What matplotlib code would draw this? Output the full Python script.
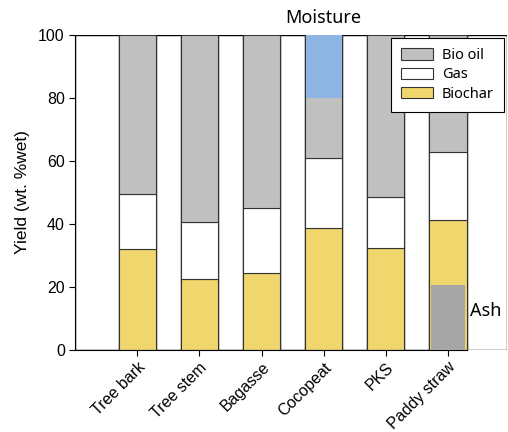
import numpy as np
import matplotlib.pyplot as plt

categories = ['Tree bark', 'Tree stem', 'Bagasse', 'Cocopeat', 'PKS', 'Paddy straw']
biochar = [32.0, 22.4, 24.3, 38.8, 32.3, 41.2]
gas = [17.4, 18.1, 20.7, 22.0, 16.2, 21.6]
bio_oil = [100 - b - g for b, g in zip(biochar, gas)]
moisture_cocopeat = 19.9   # blue band on top of Cocopeat
ash_paddy = 20.6           # grey band at bottom of Paddy straw

c_oil = '#c0c0c0'
c_char = '#f0d66c'
c_moist = '#8db4e2'
c_ash = '#a6a6a6'

fig = plt.figure(figsize=(5.08, 4.32), dpi=100)
ax = fig.add_axes([0.148, 0.19, 0.85, 0.729])

x = np.arange(len(categories))
w = 0.6

# white separator bars between the samples
gap_left = np.concatenate([[-1.0], x + w / 2])
gap_right = np.concatenate([x - w / 2, [5.95]])
ax.bar(gap_left, 100, width=gap_right - gap_left, align='edge',
       color='white', edgecolor='black', linewidth=1.0, zorder=1)

ax.bar(x, biochar, w, color=c_char, edgecolor='#333333', linewidth=0.8,
       label='Biochar', zorder=2)
ax.bar(x, gas, w, bottom=biochar, color='white', edgecolor='#333333',
       linewidth=0.8, label='Gas', zorder=2)
bot = [b + g for b, g in zip(biochar, gas)]
ax.bar(x, bio_oil, w, bottom=bot, color=c_oil, edgecolor='#333333',
       linewidth=0.8, label='Bio oil', zorder=2)

# moisture and ash overlays
ax.bar(x[3], moisture_cocopeat, w - 0.02, bottom=100 - moisture_cocopeat,
       color=c_moist, linewidth=0, zorder=3)
ax.bar(x[5], ash_paddy, w - 0.06, color=c_ash, linewidth=0, zorder=3)

ax.set_xlim(-1.0, 5.95)
ax.set_ylim(0, 100)
ax.set_yticks([0, 20, 40, 60, 80, 100])
ax.set_xticks(x)
ax.set_xticklabels(categories, rotation=45, ha='right', rotation_mode='anchor',
                   fontsize=11.5, family='Liberation Sans')
for lab in ax.get_yticklabels():
    lab.set_family('Liberation Sans')
    lab.set_fontsize(11.5)
ax.tick_params(direction='out', length=4, width=0.8)
ax.tick_params(axis='x', pad=3)
ax.spines['top'].set_visible(False)
ax.spines['right'].set_visible(False)
ax.spines['bottom'].set_bounds(-1.0, 5.3)
ax.set_ylabel('Yield (wt. %wet)', fontsize=12.5, family='Liberation Sans', labelpad=6)

ax.text(3.0, 102.5, 'Moisture', fontsize=13, family='Noto Sans', ha='center', va='bottom')
ax.text(5.35, 12.5, 'Ash', fontsize=13, family='Noto Sans', ha='left', va='center')

handles, labels = ax.get_legend_handles_labels()
leg = ax.legend(handles[::-1], labels[::-1], loc='upper right',
                bbox_to_anchor=(1.0, 1.0), borderaxespad=0.2, fancybox=False,
                framealpha=1, edgecolor='black',
                prop={'family': 'Noto Sans', 'size': 10.5},
                handlelength=2.2, handleheight=0.8, labelspacing=0.3,
                borderpad=0.7, handletextpad=0.6)
leg.get_frame().set_linewidth(0.8)
leg.set_zorder(5)

fig.savefig('out.png', dpi=100)
